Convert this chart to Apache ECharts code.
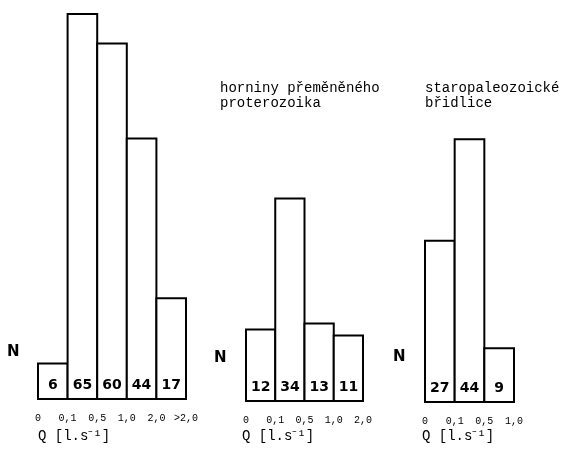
<!DOCTYPE html>
<html>
<head>
<meta charset="utf-8">
<script src="https://cdn.jsdelivr.net/npm/echarts@6/dist/echarts.min.js"></script>
<style>html,body{margin:0;padding:0;background:#fff}#c{width:565px;height:455px}</style>
</head>
<body>
<div id="c"></div>
<script>
// Panel 1 (all rocks)
var values1 = [6, 65, 60, 44, 17];
var ticks1 = ['0', '0,1', '0,5', '1,0', '2,0', '>2,0'];
// Panel 2 (horniny přeměněného proterozoika)
var values2 = [12, 34, 13, 11];
var ticks2 = ['0', '0,1', '0,5', '1,0', '2,0'];
// Panel 3 (staropaleozoické břidlice)
var values3 = [27, 44, 9];
var ticks3 = ['0', '0,1', '0,5', '1,0'];
var title2 = 'horniny přeměněného\nproterozoika';
var title3 = 'staropaleozoické\nbřidlice';
var axisTitle = 'Q [l.s⁻¹]';
var yLabel = 'N';

var panels = [
  {vals: values1, ticks: ticks1, left: 38, width: 148, top: 14, height: 385},
  {vals: values2, ticks: ticks2, left: 246, width: 117, top: 14, height: 387},
  {vals: values3, ticks: ticks3, left: 425, width: 89, top: 14, height: 388}
];

function renderBar(params, api) {
  var cat = api.value(0), val = api.value(1);
  var top = api.coord([cat, val]);
  var base = api.coord([cat, 0]);
  var w = api.size([1, 0])[0];
  var x0 = top[0] - w / 2;
  return {
    type: 'group',
    children: [
      {type: 'rect', shape: {x: x0, y: top[1], width: w, height: base[1] - top[1]},
       style: {fill: '#fff', stroke: '#000', lineWidth: 2}},
      {type: 'text', x: top[0], y: base[1] - 7,
       style: {text: String(val), fill: '#000', font: 'bold 14px DejaVu Sans',
               align: 'center', verticalAlign: 'bottom'}}
    ]
  };
}

var grid = [], xAxis = [], yAxis = [], series = [];
panels.forEach(function (p, i) {
  grid.push({left: p.left, width: p.width, top: p.top, height: p.height});
  xAxis.push({
    type: 'category', gridIndex: i,
    data: p.vals.map(function (v, k) { return String(k); }),
    boundaryGap: true,
    axisLine: {show: false},
    axisTick: {show: false}, axisLabel: {show: false}, splitLine: {show: false}
  });
  xAxis.push({
    type: 'value', gridIndex: i, position: 'bottom',
    min: 0, max: p.vals.length, interval: 1,
    axisLine: {show: false}, axisTick: {show: false}, splitLine: {show: false},
    axisLabel: {
      show: true, margin: 14, color: '#000', fontSize: 10,
      fontFamily: 'Liberation Mono',
      formatter: (function (t) { return function (v) { return t[Math.round(v)]; }; })(p.ticks)
    }
  });
  yAxis.push({type: 'value', gridIndex: i, min: 0, max: 65, show: false});
  series.push({
    type: 'custom', xAxisIndex: i * 2, yAxisIndex: i,
    data: p.vals.map(function (v, k) { return [k, v]; }),
    encode: {x: 0, y: 1},
    renderItem: renderBar,
    silent: true, animation: false
  });
});

function txt(t, x, y, size, weight, font) {
  return {type: 'text', left: x, top: y, silent: true,
    style: {text: t, fill: '#000', font: (weight || 'normal') + ' ' + size + 'px ' + (font || 'DejaVu Sans'), lineHeight: size + 1}};
}

var chart = echarts.init(document.getElementById('c'), null, {renderer: 'canvas'});
chart.setOption({
  backgroundColor: '#fff',
  animation: false,
  grid: grid, xAxis: xAxis, yAxis: yAxis, series: series,
  graphic: [
    txt(yLabel, 7, 344, 15, 'bold'),
    txt(yLabel, 214, 350, 15, 'bold'),
    txt(yLabel, 393, 349, 15, 'bold'),
    txt(axisTitle, 38, 429, 14, 'normal', 'Liberation Mono'),
    txt(axisTitle, 242, 429, 14, 'normal', 'Liberation Mono'),
    txt(axisTitle, 422, 429, 14, 'normal', 'Liberation Mono'),
    txt(title2, 220, 81, 14, 'normal', 'Liberation Mono'),
    txt(title3, 425, 81, 14, 'normal', 'Liberation Mono')
  ]
});
</script>
</body>
</html>
